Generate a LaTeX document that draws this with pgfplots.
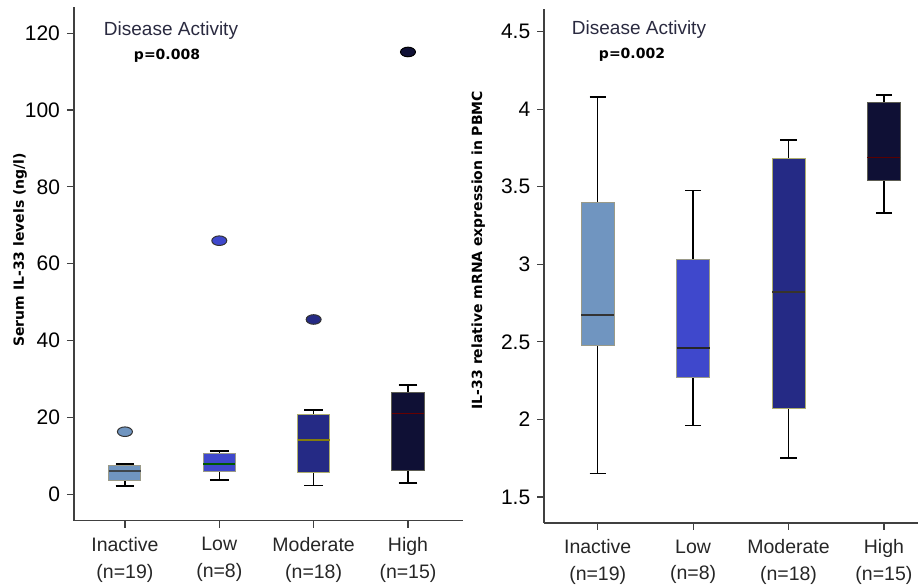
\documentclass[border=0pt]{standalone}
\usepackage{pgfplots}
\pgfplotsset{compat=1.18}
\usepgfplotslibrary{statistics}
\usepackage{fontspec}
\setmainfont{Liberation Sans}
\newfontfamily\dejavu{DejaVu Sans}
\definecolor{cInact}{HTML}{7095C0}
\definecolor{cLow}{HTML}{3F48CC}
\definecolor{cMod}{HTML}{252A85}
\definecolor{cHigh}{HTML}{0F1035}
\definecolor{boxedge}{HTML}{9A9A88}
\definecolor{daText}{HTML}{2A2A40}
\pgfplotsset{
  myaxis/.style={
    scale only axis,
    anchor=south west,
    axis x line=bottom,
    axis y line=left,
    axis line style={-, black!75, line width=0.8pt},
    tick align=outside,
    major tick length=3.5pt,
    tick style={black!75, line width=0.6pt},
    xtick={0,1,2,3},
    xticklabels={{Inactive\\(n=19)},{Low\\(n=8)},{Moderate\\(n=18)},{High\\(n=15)}},
    xticklabel style={align=center, font=\fontsize{9.75}{13.2}\selectfont, text=black!85, yshift=-1.5pt},
    yticklabel style={font=\fontsize{10.5}{12}\selectfont},
    /pgf/number format/assume math mode=true,
    every axis y label/.style={rotate=90, anchor=center, font=\dejavu\bfseries\fontsize{7}{8}\selectfont},
    boxplot/draw direction=y,
    boxplot/every whisker/.style={draw=black, line width=0.75pt},
  },
}
\begin{document}
\begin{tikzpicture}
\path[use as bounding box] (0,0) rectangle (459pt,293pt);
% ---------------- left panel
\begin{axis}[myaxis,
  at={(37pt,32.75pt)},
  width=194.35pt, height=256.75pt,
  xmin=-0.54, xmax=3.58,
  ymin=-6.8, ymax=126.8,
  ytick={0,20,40,60,80,100,120},
  ylabel={Serum IL-33 levels (ng/l)},
  ylabel style={at={(axis description cs:0,0.527)}, yshift=27pt},
  boxplot/box extend=0.34,
  boxplot/whisker extend=0.2,
]
\addplot[boxplot prepared={draw position=0, lower whisker=2.2, lower quartile=3.6, median=6.0, upper quartile=7.6, upper whisker=7.9},
  fill=cInact, draw=boxedge, line width=0.5pt,
  boxplot/every median/.style={draw=black!80!cyan, line width=1pt},
  mark=*, mark size=3pt, mark options={fill=cInact, draw=black!80, xscale=1.25, yscale=0.8, line width=0.5pt}]
  coordinates {(0,16.3)};
\addplot[boxplot prepared={draw position=1, lower whisker=3.8, lower quartile=5.9, median=7.9, upper quartile=10.6, upper whisker=11.3},
  fill=cLow, draw=boxedge, line width=0.5pt,
  boxplot/every median/.style={draw=green!35!black, line width=1pt},
  mark=*, mark size=3pt, mark options={fill=cLow, draw=black!80, xscale=1.25, yscale=0.8, line width=0.5pt}]
  coordinates {(1,66.0)};
\addplot[boxplot prepared={draw position=2, lower whisker=2.3, lower quartile=5.7, median=14.1, upper quartile=20.8, upper whisker=22.0},
  fill=cMod, draw=boxedge!80!yellow, line width=0.5pt,
  boxplot/every median/.style={draw=olive!90!black, line width=1pt},
  mark=*, mark size=3pt, mark options={fill=cMod, draw=black!80, xscale=1.25, yscale=0.8, line width=0.5pt}]
  coordinates {(2,45.5)};
\addplot[boxplot prepared={draw position=3, lower whisker=2.9, lower quartile=6.1, median=21.0, upper quartile=26.5, upper whisker=28.4},
  fill=cHigh, draw=boxedge!60!black, line width=0.5pt,
  boxplot/every median/.style={draw=red!40!black, line width=0.8pt},
  mark=*, mark size=3pt, mark options={fill=cHigh, draw=black, xscale=1.25, yscale=0.8, line width=0.5pt}]
  coordinates {(3,115.1)};
\end{axis}
% ---------------- right panel
\begin{axis}[myaxis,
  at={(272.15pt,31.65pt)},
  width=186.85pt, height=256.7pt,
  xmin=-0.56, xmax=3.357,
  ymin=1.334, ymax=4.644,
  ytick={1.5,2,2.5,3,3.5,4,4.5},
  ylabel={IL-33 relative mRNA expression in PBMC},
  ylabel style={at={(axis description cs:0,0.531)}, yshift=33pt},
  boxplot/box extend=0.346,
  boxplot/whisker extend=0.17,
]
\addplot[boxplot prepared={draw position=0, lower whisker=1.65, lower quartile=2.479, median=2.675, upper quartile=3.397, upper whisker=4.077},
  fill=cInact, draw=boxedge, line width=0.5pt,
  boxplot/every median/.style={draw=black!80, line width=0.9pt}]
  coordinates {};
\addplot[boxplot prepared={draw position=1, lower whisker=1.96, lower quartile=2.27, median=2.46, upper quartile=3.03, upper whisker=3.477},
  fill=cLow, draw=boxedge, line width=0.5pt,
  boxplot/every median/.style={draw=black!85, line width=0.9pt}]
  coordinates {};
\addplot[boxplot prepared={draw position=2, lower whisker=1.75, lower quartile=2.07, median=2.82, upper quartile=3.68, upper whisker=3.80},
  fill=cMod, draw=boxedge!80!yellow, line width=0.5pt,
  boxplot/every median/.style={draw=black!80!olive, line width=0.9pt}]
  coordinates {};
\addplot[boxplot prepared={draw position=3, lower whisker=3.33, lower quartile=3.54, median=3.69, upper quartile=4.04, upper whisker=4.09},
  fill=cHigh, draw=boxedge!60!black, line width=0.5pt,
  boxplot/every median/.style={draw=red!35!black, line width=0.7pt}]
  coordinates {};
\end{axis}
% ---------------- annotations
\node[text=daText, font=\fontsize{9.5}{11}\selectfont] at (85.5pt,277.5pt) {Disease Activity};
\node[font=\dejavu\bfseries\fontsize{7}{8}\selectfont] at (83.5pt,265pt) {p=0.008};
\node[text=daText, font=\fontsize{9.5}{11}\selectfont] at (319.5pt,278pt) {Disease Activity};
\node[font=\dejavu\bfseries\fontsize{7}{8}\selectfont] at (316pt,265.5pt) {p=0.002};
\end{tikzpicture}
\end{document}
